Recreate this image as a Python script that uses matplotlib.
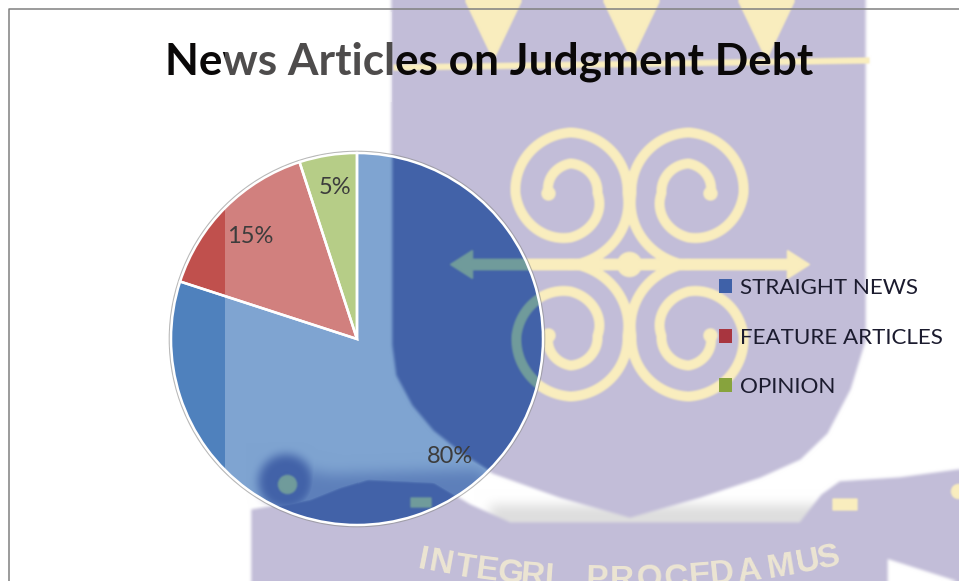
import numpy as np
import matplotlib
matplotlib.use("Agg")
import matplotlib.pyplot as plt
from matplotlib.backends.backend_agg import FigureCanvasAgg
from matplotlib.figure import Figure
from matplotlib.patches import Circle, Polygon, Rectangle, Patch

W, H = 959, 581

categories = ["STRAIGHT NEWS", "FEATURE ARTICLES", "OPINION"]
shares = [80, 15, 5]
slice_colors = ["#4f81bd", "#c0504d", "#9bbb59"]
legend_colors = ["#3f61a8", "#a8353f", "#87a33d"]
title_text = "News Articles on Judgment Debt"
motto_chars = list("INTEGRIPROCEDAMUS")
motto_x = [423, 441, 465, 487, 510, 533, 549, 597, 622, 649, 676, 700, 722, 749, 781, 808, 828]
pct_nudge = [(6, -3), (-2, 3), (1, -5)]

# centre and radius of the pie in picture pixels
CX, CY, R = 357, 339, 186
BAND_X = 225  # left edge of the pale part of the watermark

LAV = np.array([194, 189, 216]) / 255
YEL = np.array([249, 237, 190]) / 255
DARK_BLUE = np.array([66, 98, 168]) / 255
PALE_BLUE = np.array([127, 164, 209]) / 255
BASE_BLUE = np.array([79, 129, 189]) / 255
TEAL = np.array([112, 155, 155]) / 255


def render_mask(draw):
    fig = Figure(figsize=(W / 100, H / 100), dpi=100, facecolor="black")
    canvas = FigureCanvasAgg(fig)
    ax = fig.add_axes([0, 0, 1, 1])
    ax.set_xlim(0, W)
    ax.set_ylim(H, 0)
    ax.axis("off")
    draw(ax)
    canvas.draw()
    return np.asarray(canvas.buffer_rgba())[:, :, 0] / 255.0


def blur(mask, size):
    kernel = np.ones(size) / size
    out = mask
    for _ in range(3):
        out = np.apply_along_axis(lambda v: np.convolve(np.pad(v, size, mode="edge"), kernel, "same")[size:-size], 0, out)
        out = np.apply_along_axis(lambda v: np.convolve(np.pad(v, size, mode="edge"), kernel, "same")[size:-size], 1, out)
    return out


def draw_shield(ax):
    ax.add_patch(Polygon([(392, -5), (392, 345), (396, 375), (412, 405), (433, 430), (462, 453),
                          (493, 473), (560, 497), (630, 517), (700, 497), (760, 477), (800, 459),
                          (827, 433), (850, 389), (865, 340), (865, -5)], color="white"))
    ax.add_patch(Polygon([(252, 590), (252, 510), (310, 500), (340, 488), (367, 480), (433, 483),
                          (470, 505), (510, 523), (800, 523), (822, 495), (840, 482), (900, 478),
                          (959, 470), (965, 590), (959, 581), (887, 558), (887, 590)], color="white"))


def draw_lobe(ax):
    ax.add_patch(Circle((286, 482), 27, color="white"))


def draw_shade(ax):
    ax.add_patch(Polygon([(490, 505), (830, 505), (830, 530), (490, 530)], color="white"))


def draw_haze(ax):
    ax.add_patch(Polygon([(265, 462), (330, 475), (480, 470), (500, 510), (265, 520)], color="white"))


def spiral(ax, sx, sy):
    # knots: sweep in degrees from the bottom of the curl, radius in pixels
    sweep = [0, 90, 180, 270, 360, 450, 540, 630]
    radius = [72, 57, 61, 55, 44, 27, 30, 22]
    t = np.linspace(0, 630, 300)
    r = np.interp(t, sweep, radius)
    a = np.radians(t)
    x = 628 + sx * (59 - r * np.sin(a))
    y = 263 + sy * (71 - r * np.cos(a))
    ax.plot(x, y, color="white", lw=7.2, solid_capstyle="round")
    ax.add_patch(Circle((x[-1], y[-1]), 6.5, color="white"))


def draw_yellow(ax):
    for cx in [492, 630, 765]:
        ax.add_patch(Polygon([(cx - 30, -5), (cx + 30, -5), (cx, 58)], color="white"))
    ax.plot([395, 865], [66, 59], color="white", lw=4.5)
    ax.plot([465, 790], [263, 263], color="white", lw=8.5)
    for tip, d in [(448, 1), (808, -1)]:
        ax.add_patch(Polygon([(tip, 263), (tip + d * 22, 249), (tip + d * 22, 277)], color="white"))
    ax.add_patch(Circle((628, 263), 12, color="white"))
    for sx in [-1, 1]:
        for sy in [-1, 1]:
            spiral(ax, sx, sy)
    ax.add_patch(Circle((286, 483), 9, color="white"))
    ax.add_patch(Rectangle((408, 496), 20, 9, color="white"))
    ax.add_patch(Rectangle((831, 497), 24, 11, color="white"))
    ax.add_patch(Circle((957, 490), 7, color="white"))


shield = blur(render_mask(draw_shield), 3)
lobe = blur(render_mask(draw_lobe), 9)
shade = blur(render_mask(draw_shade), 11)
haze = blur(render_mask(draw_haze), 13)
yellow = blur(render_mask(draw_yellow), 2)
body = np.maximum(shield, lobe)

# watermark as seen on the white page
page = np.ones((H, W, 3))
page = page * (1 - 0.13 * shade[..., None])
page = page * (1 - body[..., None]) + LAV * body[..., None]
page = page * (1 - yellow[..., None]) + YEL * yellow[..., None]

# the same watermark as seen through the blue slice
light = np.tile(PALE_BLUE, (H, W, 1))
light[:, :BAND_X] = BASE_BLUE
seen = np.maximum(body, 0.55 * haze)
through = light * (1 - seen[..., None]) + DARK_BLUE * seen[..., None]
through = through * (1 - yellow[..., None]) + TEAL * yellow[..., None]

plt.rcParams["font.family"] = ["Lato", "DejaVu Sans"]
fig = plt.figure(figsize=(W / 100, H / 100), dpi=100, facecolor="white")

bg = fig.add_axes([0, 0, 1, 1], zorder=0)
bg.imshow(page, extent=(0, W, H, 0), aspect="auto", interpolation="nearest")
bg.set_xlim(0, W)
bg.set_ylim(H, 0)
bg.axis("off")
bg.plot([9, 9, W], [H, 9, 9], color="#808080", lw=1.1)
bg.add_patch(Circle((CX, CY), R + 1.5, facecolor="none", edgecolor="#8a8a8a", lw=1.2, alpha=0.6))

pie_ax = fig.add_axes([(CX - R) / W, (H - CY - R) / H, 2 * R / W, 2 * R / H], zorder=1)
wedges, _, pct = pie_ax.pie(shares, colors=slice_colors, startangle=90, counterclock=False,
                            autopct="%.0f%%", pctdistance=0.8,
                            textprops={"fontsize": 17, "color": "#3c3c3c", "zorder": 6})
for t, (dx, dy) in zip(pct, pct_nudge):
    px, py = t.get_position()
    t.set_position((px + dx / R, py - dy / R))
to_data = lambda px: (px - CX) / R
for w in wedges[1:]:
    veil = Rectangle((to_data(BAND_X), -1.1), 2.5, 2.2, facecolor="white", alpha=0.28, zorder=2, lw=0)
    pie_ax.add_patch(veil)
    veil.set_clip_path(w)
im = pie_ax.imshow(through, extent=(to_data(0), to_data(W), (CY - H) / R, CY / R),
                   aspect="auto", zorder=2, interpolation="nearest")
im.set_clip_path(wedges[0])
pie_ax.pie(shares, colors=["none"] * 3, startangle=90, counterclock=False,
           wedgeprops={"edgecolor": "white", "linewidth": 1.8, "zorder": 5})
pie_ax.set_xlim(-1, 1)
pie_ax.set_ylim(-1, 1)
pie_ax.set_aspect("auto")
pie_ax.axis("off")

top = fig.add_axes([0, 0, 1, 1], zorder=2)
top.set_xlim(0, W)
top.set_ylim(H, 0)
top.axis("off")
top.patch.set_alpha(0)
top.text(489, 62, title_text, ha="center", va="center", fontsize=31.8, fontweight="bold", color="#0a0808")
top.add_patch(Rectangle((BAND_X, 12), 392 - BAND_X, 90, facecolor="white", alpha=0.28, lw=0, zorder=4))

# motto on the ribbon, one letter at a time along a shallow arc
ARC_R, ARC_CX, ARC_CY = 1000, 620, -420
for ch, x in zip(motto_chars, motto_x):
    a = np.arcsin((x - ARC_CX) / ARC_R)
    y = ARC_CY + ARC_R * np.cos(a)
    top.text(x, y, ch, ha="center", va="center", rotation=np.degrees(a), fontsize=24,
             fontweight="bold", family="Liberation Sans", color="#ece5d2", clip_on=True)

handles = [Patch(facecolor=c, edgecolor="none") for c in legend_colors]
top.legend(handles, categories, loc="upper left", bbox_to_anchor=(719 / W, 1 - 278 / H),
           bbox_transform=fig.transFigure, frameon=False, fontsize=16.1, labelcolor="#1b1b2e",
           handlelength=0.58, handleheight=0.58, handletextpad=0.36, labelspacing=1.32,
           borderpad=0, borderaxespad=0)

fig.savefig("out.png", dpi=100)
